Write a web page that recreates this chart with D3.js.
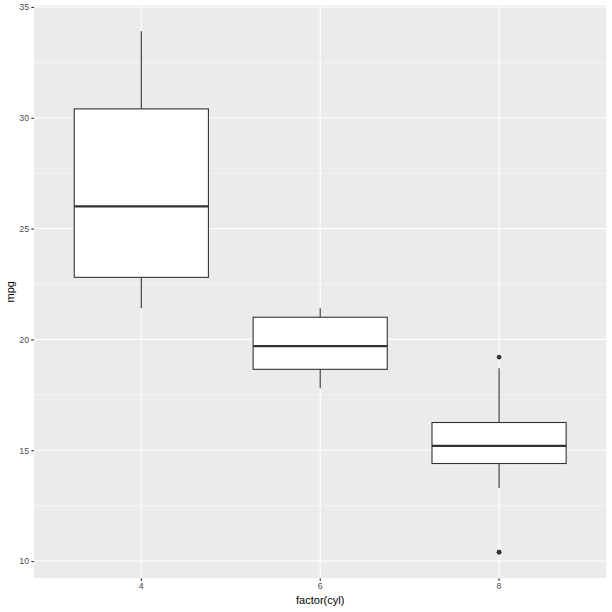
<!DOCTYPE html>
<html>
<head>
<meta charset="utf-8">
<script src="https://cdn.jsdelivr.net/npm/d3@7"></script>
<style>
body{margin:0;background:#fff;}
svg{display:block;font-family:"Liberation Sans",Arial,sans-serif;}
</style>
</head>
<body>
<svg id="svg" width="612" height="612"></svg>
<script>
// mtcars mpg by cyl, boxplot stats
var cylGroups = ["4", "6", "8"];
var lowerWhisker = [21.4, 17.8, 13.3];
var q1Values = [22.8, 18.65, 14.4];
var medianValues = [26.0, 19.7, 15.2];
var q3Values = [30.4, 21.0, 16.25];
var upperWhisker = [33.9, 21.4, 18.7];
var outlierGroups = ["8", "8", "8"];
var outlierValues = [10.4, 10.4, 19.2];
var yTicks = [10, 15, 20, 25, 30, 35];

var svg = d3.select('#svg');
var panel = {left: 34, top: 5.3, right: 606.4, bottom: 578.2};

var yScale = d3.scaleLinear()
    .domain([9.225, 35.075])
    .range([panel.bottom, panel.top]);

var xScale = d3.scaleBand()
    .domain(cylGroups)
    .range([panel.left, panel.right])
    .paddingInner(0.2)
    .paddingOuter(0.2);
// band center / box width of 0.75 units
var step = xScale.step();
var boxW = step * 0.75;
var cx = function(g){ return xScale(g) + xScale.bandwidth() / 2; };

svg.append("rect")
    .attr("x", panel.left).attr("y", panel.top)
    .attr("width", panel.right - panel.left)
    .attr("height", panel.bottom - panel.top)
    .attr("fill", "#EBEBEB");

// minor grid
var minor = [];
for (var i = 0; i < yTicks.length - 1; i++) minor.push((yTicks[i] + yTicks[i + 1]) / 2);
svg.append("g").selectAll("line").data(minor).enter().append("line")
    .attr("x1", panel.left).attr("x2", panel.right)
    .attr("y1", function(d){ return yScale(d); })
    .attr("y2", function(d){ return yScale(d); })
    .attr("stroke", "#fff").attr("stroke-width", 0.55);

// major grid
svg.append("g").selectAll("line").data(yTicks).enter().append("line")
    .attr("x1", panel.left).attr("x2", panel.right)
    .attr("y1", function(d){ return yScale(d); })
    .attr("y2", function(d){ return yScale(d); })
    .attr("stroke", "#fff").attr("stroke-width", 1.1);
svg.append("g").selectAll("line").data(cylGroups).enter().append("line")
    .attr("y1", panel.top).attr("y2", panel.bottom)
    .attr("x1", cx).attr("x2", cx)
    .attr("stroke", "#fff").attr("stroke-width", 1.1);

// axes
var yAxis = svg.append("g")
    .attr("transform", "translate(" + panel.left + ",0)")
    .call(d3.axisLeft(yScale).tickValues(yTicks).tickSize(2.7).tickPadding(2.2));
var xAxis = svg.append("g")
    .attr("transform", "translate(0," + panel.bottom + ")")
    .call(d3.axisBottom(xScale).tickSize(2.7).tickPadding(2.2));
[xAxis, yAxis].forEach(function(a){
    a.select(".domain").remove();
    a.selectAll(".tick line").attr("stroke", "#333").attr("stroke-width", 1.1);
    a.selectAll(".tick text").attr("fill", "#4D4D4D").attr("font-size", "8.8px")
        .attr("font-family", "Liberation Sans, Arial, sans-serif");
});

// boxes
var g = svg.append("g");
cylGroups.forEach(function(c, i){
    var x = cx(c);
    g.append("line").attr("x1", x).attr("x2", x)
        .attr("y1", yScale(q3Values[i])).attr("y2", yScale(upperWhisker[i]))
        .attr("stroke", "#333").attr("stroke-width", 1.1);
    g.append("line").attr("x1", x).attr("x2", x)
        .attr("y1", yScale(q1Values[i])).attr("y2", yScale(lowerWhisker[i]))
        .attr("stroke", "#333").attr("stroke-width", 1.1);
    g.append("rect")
        .attr("x", x - boxW / 2).attr("width", boxW)
        .attr("y", yScale(q3Values[i]))
        .attr("height", yScale(q1Values[i]) - yScale(q3Values[i]))
        .attr("fill", "#fff").attr("stroke", "#333").attr("stroke-width", 1.1);
    g.append("line").attr("x1", x - boxW / 2).attr("x2", x + boxW / 2)
        .attr("y1", yScale(medianValues[i])).attr("y2", yScale(medianValues[i]))
        .attr("stroke", "#333").attr("stroke-width", 2.2);
});

g.selectAll("circle").data(outlierValues).enter().append("circle")
    .attr("cx", function(d, i){ return cx(outlierGroups[i]); })
    .attr("cy", function(d){ return yScale(d); })
    .attr("r", 2.3).attr("fill", "#333");

// axis titles
svg.append("text")
    .attr("x", (panel.left + panel.right) / 2).attr("y", 604)
    .attr("text-anchor", "middle").attr("font-size", "11px").attr("fill", "#000")
    .text("factor(cyl)");
svg.append("text")
    .attr("transform", "translate(14," + ((panel.top + panel.bottom) / 2) + ") rotate(-90)")
    .attr("text-anchor", "middle").attr("font-size", "11px").attr("fill", "#000")
    .text("mpg");
</script>
</body>
</html>
